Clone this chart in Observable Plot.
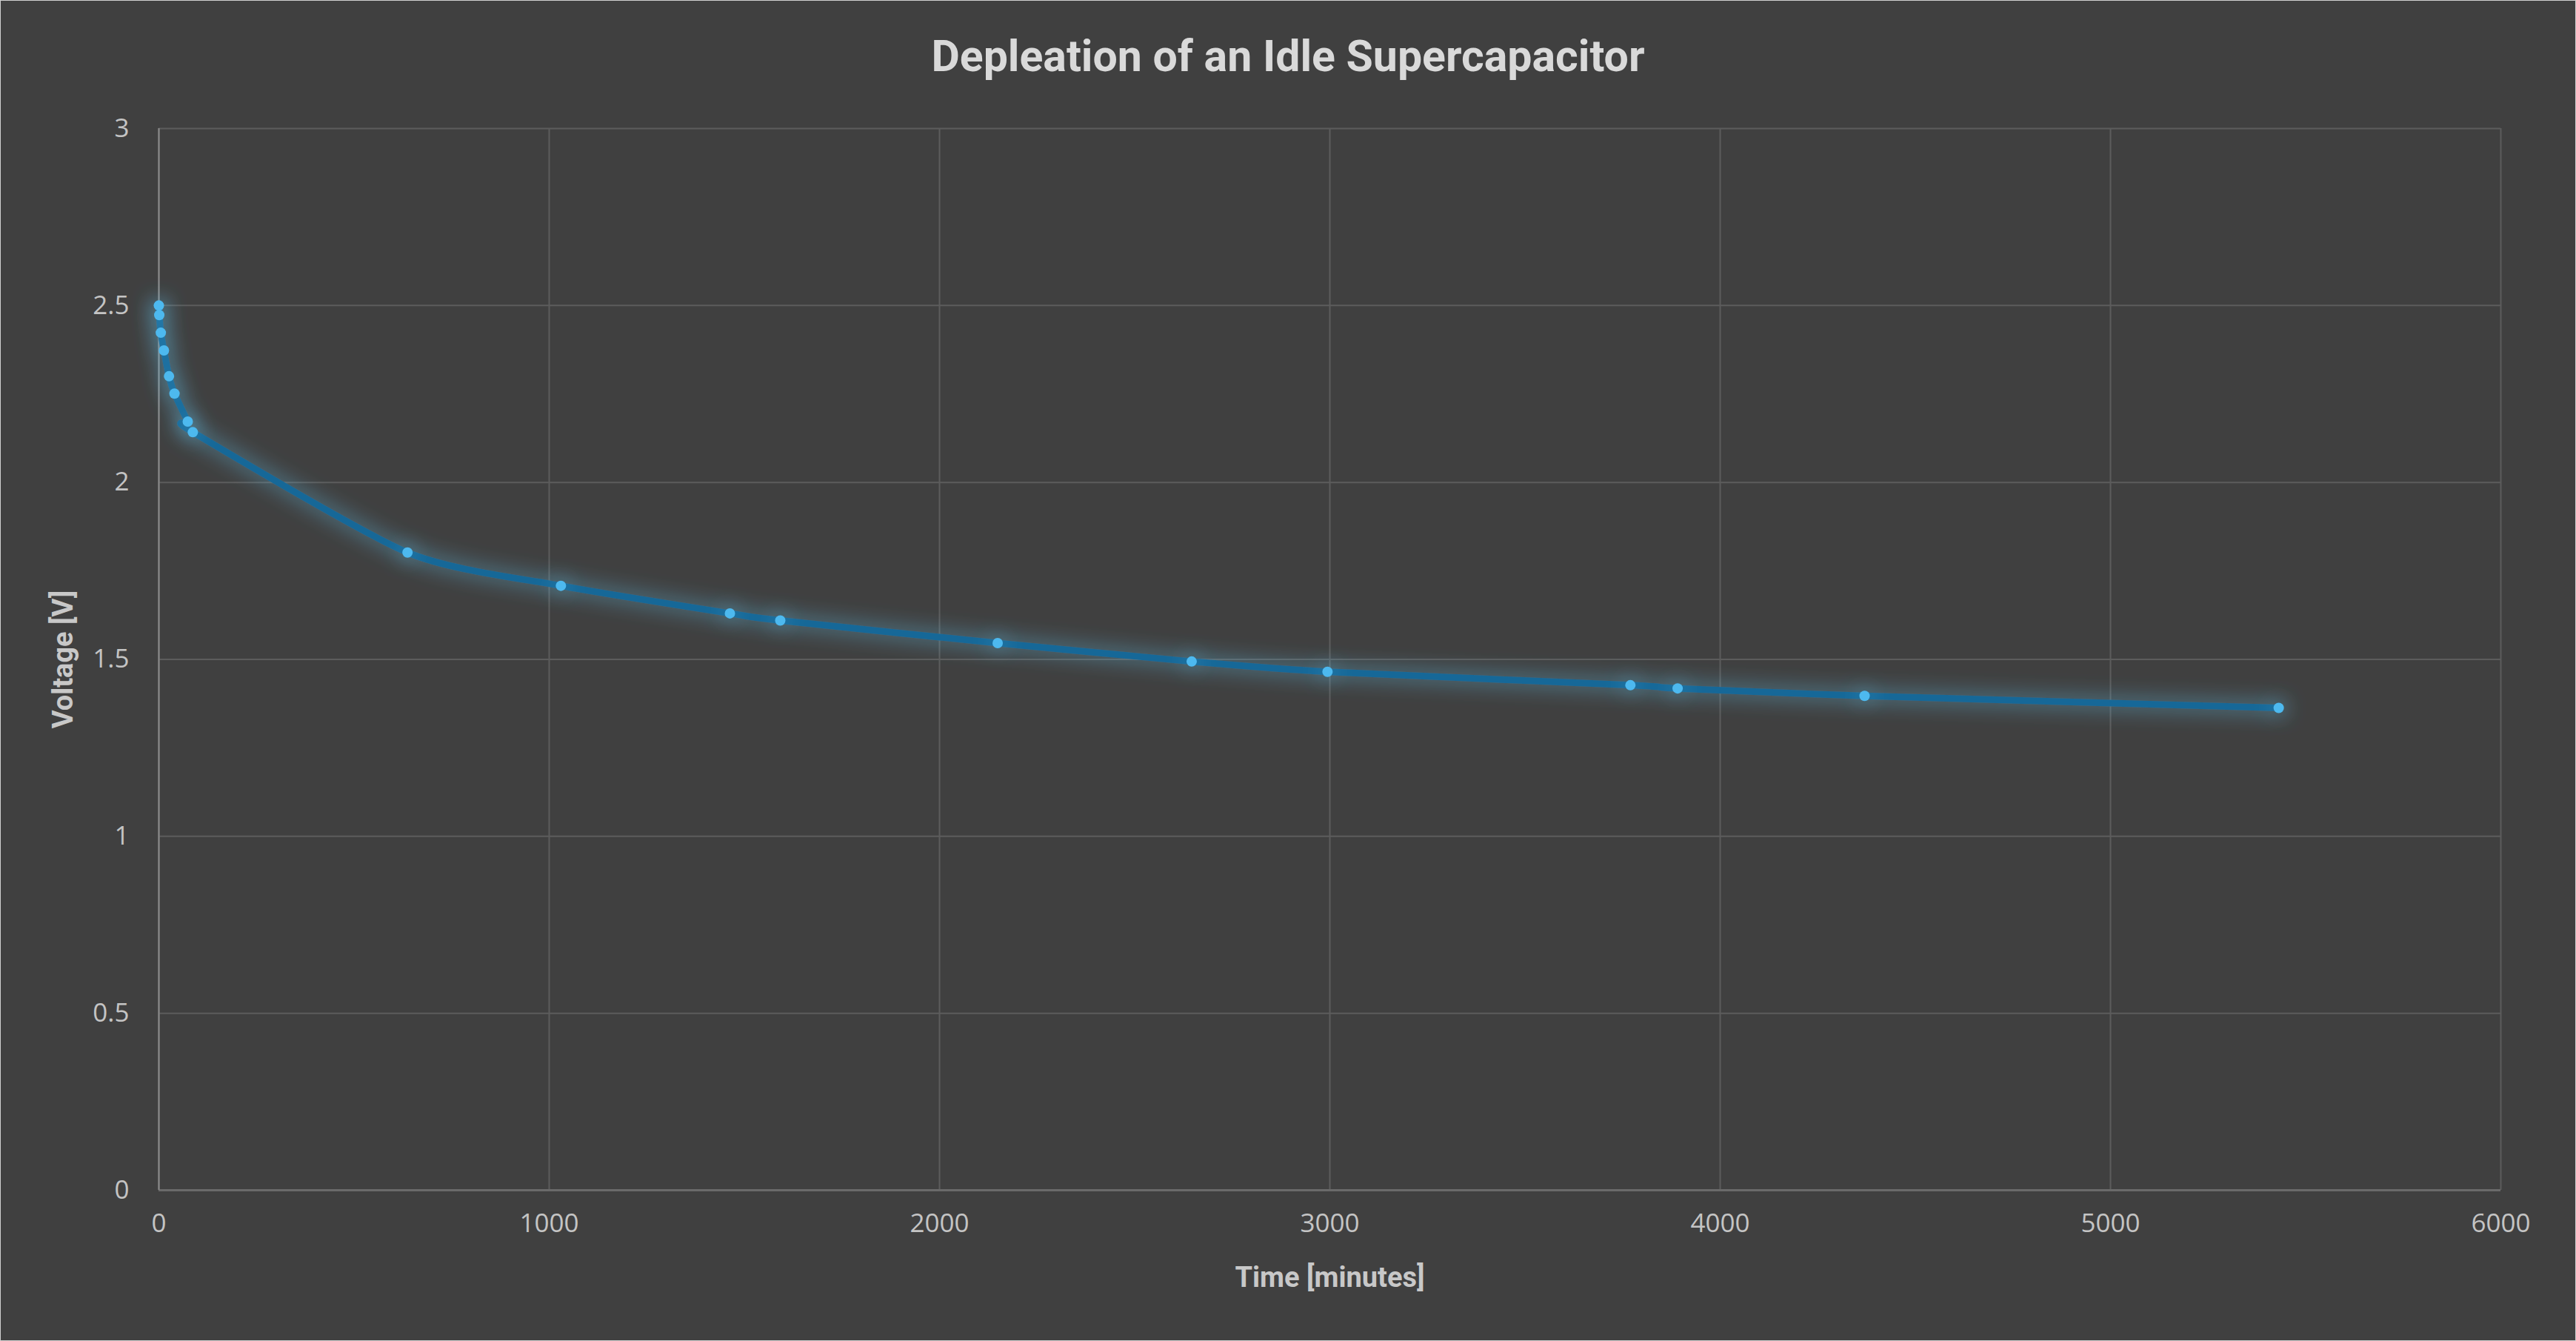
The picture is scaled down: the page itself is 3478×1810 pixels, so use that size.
<!DOCTYPE html>
<html>
<head>
<meta charset="utf-8">
<script src="https://cdn.jsdelivr.net/npm/d3@7"></script>
<script src="https://cdn.jsdelivr.net/npm/@observablehq/plot@0.6"></script>
<style>
  html, body { margin: 0; padding: 0; background: #404040; }
  #frame {
    width: 3476px; height: 1808px; border: 1px solid #d0d0d0;
    background: #404040; position: relative; overflow: hidden;
  }
  #title {
    height: 130px; line-height: 150px; text-align: center;
    font-family: "Roboto", sans-serif;
    font-weight: bold; font-size: 59px; color: #d9d9d9;
  }
  #chart svg [aria-label="x-axis label"] text,
  #chart svg [aria-label="y-axis label"] text {
    font-family: "Roboto", sans-serif;
    font-weight: bold; font-size: 38px; fill: #c8c8c8;
  }
</style>
</head>
<body>
<div id="frame">
  <div id="title">Depleation of an Idle Supercapacitor</div>
  <div id="chart"></div>
</div>
<script>
const timeMinutes = [0, 1, 5, 13, 26, 40, 74, 87, 637, 1030, 1463, 1592, 2149, 2646, 2994, 3770, 3891, 4370, 5431];
const voltage     = [2.50, 2.473, 2.423, 2.373, 2.30, 2.251, 2.172, 2.142, 1.802, 1.708, 1.630, 1.610, 1.546, 1.494, 1.465, 1.427, 1.418, 1.397, 1.363];
const xTicks = [0, 1000, 2000, 3000, 4000, 5000, 6000];
const yTicks = [0, 0.5, 1, 1.5, 2, 2.5, 3];

const data = timeMinutes.map((t, i) => ({t, v: voltage[i]}));

const chart = Plot.plot({
  width: 3476,
  height: 1670,
  marginLeft: 213,
  marginRight: 101,
  marginTop: 42,
  marginBottom: 195,
  style: {
    background: "transparent",
    color: "#c4c4c4",
    fontSize: "35px",
    fontFamily: "'Open Sans', 'Noto Sans', sans-serif"
  },
  x: {domain: [0, 6000], label: "Time [minutes]"},
  y: {domain: [0, 3], label: "Voltage [V]"},
  marks: [
    Plot.gridX(xTicks, {stroke: "#5c5c5c", strokeOpacity: 1, strokeWidth: 2}),
    Plot.gridY(yTicks, {stroke: "#5c5c5c", strokeOpacity: 1, strokeWidth: 2}),
    Plot.ruleY([0], {stroke: "#6a6a6a", strokeWidth: 3}),
    Plot.ruleX([0], {stroke: "#8c8c8c", strokeWidth: 2}),
    Plot.axisX(xTicks, {tickSize: 0, tickPadding: 32, label: "Time [minutes]", labelAnchor: "center", labelOffset: 130, labelArrow: "none", tickFormat: d => String(d)}),
    Plot.axisY(yTicks, {tickSize: 0, tickPadding: 40, label: "Voltage [V]", labelAnchor: "center", labelOffset: 143, labelArrow: "none", tickFormat: d => String(d)}),
    Plot.line(data, {x: "t", y: "v", curve: "cardinal", tension: 0.3, stroke: "#186898", strokeWidth: 9}),
    Plot.dot(data, {x: "t", y: "v", r: 7, fill: "#4db9ef"})
  ]
});

// glow filter
const svgNS = "http://www.w3.org/2000/svg";
const defs = document.createElementNS(svgNS, "defs");
defs.innerHTML = `
  <filter id="glow" x="-20%" y="-50%" width="140%" height="200%">
    <feGaussianBlur in="SourceGraphic" stdDeviation="14" result="blur"/>
    <feColorMatrix in="blur" type="matrix" values="0 0 0 0 0.12  0 0 0 0 0.55  0 0 0 0 0.85  0 0 0 0.8 0" result="glowc"/>
    <feMerge><feMergeNode in="glowc"/><feMergeNode in="SourceGraphic"/></feMerge>
  </filter>`;
chart.insertBefore(defs, chart.firstChild);
chart.querySelectorAll('[aria-label="line"], [aria-label="dot"]').forEach(g => g.setAttribute("filter", "url(#glow)"));

document.getElementById("chart").appendChild(chart);
</script>
</body>
</html>
